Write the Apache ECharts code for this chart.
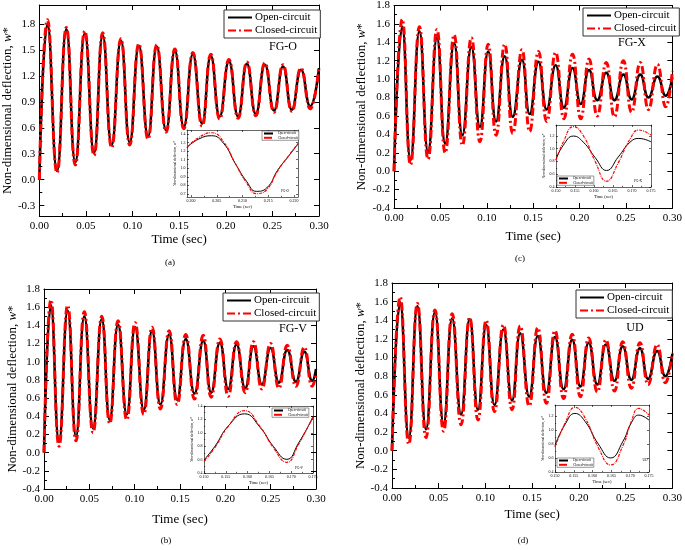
<!DOCTYPE html>
<html><head><meta charset="utf-8">
<script src="https://cdn.jsdelivr.net/npm/echarts@6/dist/echarts.min.js"></script>
<style>html,body{margin:0;padding:0;background:#fff}#c{width:685px;height:550px}</style>
</head><body><div id="c"></div>
<script>
// ---------- DATA ----------
const seriesNames = ['Open-circuit', 'Closed-circuit'];
const panelTags = ['FG-O', 'FG-X', 'FG-V', 'UD'];
const captions = ['(a)', '(c)', '(b)', '(d)'];

const xTicksMain = [0, 0.05, 0.10, 0.15, 0.20, 0.25, 0.30];
const yTicksA = [-0.3, 0.0, 0.3, 0.6, 0.9, 1.2, 1.5, 1.8];
const yTicksBCD = [-0.4, -0.2, 0.0, 0.2, 0.4, 0.6, 0.8, 1.0, 1.2, 1.4, 1.6, 1.8];
const xTicksInsetA = [0.200, 0.205, 0.210, 0.215, 0.220];
const yTicksInsetA = [0.7, 0.8, 0.9, 1.0, 1.1, 1.2, 1.3, 1.4];
const xTicksInset = [0.150, 0.155, 0.160, 0.165, 0.170, 0.175];
const yTicksInsetB = [0.4, 0.6, 0.8, 1.0, 1.2, 1.4];
const yTicksInsetCD = [0.4, 0.6, 0.8, 1.0, 1.2];

// (a) FG-O
const tA = [0, 0.0088, 0.0190, 0.0290, 0.0386, 0.0488, 0.0587, 0.0680, 0.0776, 0.0875, 0.0970, 0.1068, 0.1166, 0.1260, 0.1360, 0.1454, 0.1550, 0.1647, 0.1746, 0.1840, 0.1935, 0.2034, 0.2132, 0.2227, 0.2322, 0.2420, 0.2518, 0.2614, 0.2709, 0.2807, 0.2905, 0.3000];
const openA = [0, 1.80, 0.10, 1.74, 0.20, 1.69, 0.31, 1.67, 0.40, 1.61, 0.43, 1.55, 0.50, 1.54, 0.57, 1.49, 0.61, 1.45, 0.65, 1.43, 0.73, 1.37, 0.73, 1.34, 0.76, 1.33, 0.80, 1.31, 0.81, 1.27, 0.85, 1.29];
const closedA = [0, 1.85, 0.08, 1.76, 0.17, 1.72, 0.28, 1.70, 0.37, 1.63, 0.40, 1.57, 0.47, 1.56, 0.55, 1.51, 0.59, 1.47, 0.62, 1.45, 0.70, 1.39, 0.71, 1.36, 0.74, 1.35, 0.78, 1.33, 0.79, 1.29, 0.82, 1.30];

// (c) FG-X
const tC = [0, 0.0089, 0.0178, 0.0274, 0.0367, 0.0463, 0.0552, 0.0648, 0.0737, 0.0834, 0.0926, 0.1015, 0.1100, 0.1193, 0.1280, 0.1379, 0.1462, 0.1557, 0.1646, 0.1742, 0.1831, 0.1924, 0.2013, 0.2102, 0.2191, 0.2287, 0.2376, 0.2472, 0.2561, 0.2654, 0.2743, 0.2839, 0.2928, 0.3000];
const openC = [0, 1.57, 0.12, 1.52, 0.21, 1.45, 0.30, 1.39, 0.39, 1.35, 0.48, 1.30, 0.54, 1.25, 0.59, 1.21, 0.62, 1.19, 0.67, 1.15, 0.69, 1.12, 0.73, 1.10, 0.77, 1.07, 0.77, 1.05, 0.78, 1.05, 0.80, 1.03, 0.82, 1.02];
const closedC = [0, 1.65, 0.07, 1.57, 0.13, 1.54, 0.20, 1.48, 0.28, 1.45, 0.32, 1.38, 0.39, 1.38, 0.41, 1.32, 0.43, 1.30, 0.54, 1.29, 0.57, 1.27, 0.57, 1.22, 0.60, 1.18, 0.59, 1.20, 0.64, 1.18, 0.67, 1.16, 0.70, 1.09];

// (b) FG-V
const tB = [0, 0.0077, 0.0166, 0.0261, 0.0353, 0.0445, 0.0541, 0.0637, 0.0725, 0.0817, 0.0913, 0.1005, 0.1100, 0.1192, 0.1284, 0.1380, 0.1469, 0.1564, 0.1660, 0.1756, 0.1844, 0.1940, 0.2032, 0.2124, 0.2219, 0.2311, 0.2403, 0.2499, 0.2591, 0.2683, 0.2779, 0.2871, 0.2959, 0.3000];
const openB = [0, 1.62, 0.12, 1.56, 0.18, 1.50, 0.27, 1.47, 0.36, 1.41, 0.42, 1.38, 0.47, 1.34, 0.53, 1.30, 0.58, 1.25, 0.65, 1.23, 0.66, 1.21, 0.70, 1.19, 0.71, 1.17, 0.75, 1.15, 0.77, 1.13, 0.78, 1.11, 0.79, 0.92];
const closedB = [0, 1.68, 0.07, 1.62, 0.13, 1.55, 0.22, 1.50, 0.32, 1.45, 0.36, 1.43, 0.42, 1.38, 0.48, 1.34, 0.53, 1.30, 0.59, 1.29, 0.61, 1.25, 0.62, 1.22, 0.66, 1.22, 0.70, 1.20, 0.71, 1.18, 0.73, 1.16, 0.73, 0.86];

// (d) UD
const tD = [0, 0.0088, 0.0180, 0.0272, 0.0364, 0.0460, 0.0552, 0.0644, 0.0739, 0.0831, 0.0920, 0.1008, 0.1097, 0.1192, 0.1284, 0.1372, 0.1468, 0.1560, 0.1652, 0.1744, 0.1836, 0.1928, 0.2016, 0.2105, 0.2197, 0.2289, 0.2381, 0.2469, 0.2561, 0.2653, 0.2741, 0.2837, 0.2925, 0.3000];
const openD = [0, 1.59, 0.14, 1.55, 0.23, 1.49, 0.29, 1.42, 0.39, 1.41, 0.44, 1.35, 0.49, 1.30, 0.54, 1.26, 0.58, 1.23, 0.62, 1.22, 0.66, 1.19, 0.69, 1.16, 0.71, 1.14, 0.75, 1.12, 0.76, 1.10, 0.77, 1.07, 0.80, 1.04];
const closedD = [0, 1.65, 0.07, 1.58, 0.14, 1.51, 0.21, 1.47, 0.28, 1.43, 0.33, 1.40, 0.42, 1.35, 0.44, 1.34, 0.48, 1.32, 0.51, 1.29, 0.56, 1.25, 0.58, 1.21, 0.63, 1.19, 0.64, 1.17, 0.67, 1.16, 0.71, 1.14, 0.73, 1.05];

// insets
const tIa = [0.1992, 0.2015, 0.2040, 0.2063, 0.2086, 0.2108, 0.2127, 0.2147, 0.2169, 0.2189, 0.2208];
const openIa = [1.245, 1.342, 1.38, 1.292, 1.056, 0.847, 0.731, 0.77, 0.983, 1.137, 1.284];
const closedIa = [1.245, 1.36, 1.415, 1.31, 1.056, 0.83, 0.705, 0.75, 0.975, 1.14, 1.29];

const tIc = [0.150, 0.1519, 0.1546, 0.1572, 0.1603, 0.1633, 0.1664, 0.1695, 0.1718, 0.1750];
const openIc = [0.826, 1.05, 1.195, 1.10, 0.86, 0.658, 0.87, 1.10, 1.158, 1.105];
const closedIc = [0.816, 1.10, 1.342, 1.20, 0.80, 0.49, 0.78, 1.15, 1.29, 1.21];

const tIb = [0.150, 0.1525, 0.1556, 0.1593, 0.1629, 0.1659, 0.1690, 0.1717, 0.1750];
const openIb = [0.594, 0.798, 1.104, 1.283, 1.078, 0.798, 0.604, 0.849, 1.232];
const closedIb = [0.57, 0.78, 1.10, 1.33, 1.09, 0.78, 0.56, 0.83, 1.24];

const tId = [0.150, 0.1527, 0.1553, 0.1580, 0.1615, 0.1648, 0.1681, 0.1703, 0.1723, 0.1750];
const openId = [0.778, 1.08, 1.234, 1.12, 0.80, 0.60, 0.84, 1.10, 1.21, 1.138];
const closedId = [0.754, 1.10, 1.32, 1.17, 0.75, 0.50, 0.78, 1.12, 1.306, 1.21];

// ---------- BUILD ----------
const F = "'Liberation Serif','DejaVu Serif',serif";
const grids = [], xAxes = [], yAxes = [], series = [], legends = [], graphics = [];
const pair = (t, v) => t.map((x, i) => [x, v[i]]);
const minors = ticks => { const m = []; for (let i = 0; i < ticks.length - 1; i++) m.push((ticks[i] + ticks[i + 1]) / 2); return m; };

function addPanel(c) {
  const gi = grids.length;
  const big = !c.inset;
  grids.push({ left: c.box[0], top: c.box[1], width: c.box[2], height: c.box[3], show: !big, backgroundColor: '#fff', borderWidth: 0 });
  const ls = { color: '#000', width: big ? 1 : 0.6 };
  const tl = big ? 5 : 2, mtl = big ? 3 : 1.2;
  const yNameRich = { i: { fontStyle: 'italic', fontFamily: F, fontSize: c.ynfs, color: '#000' } };
  const xi = xAxes.length, yi = yAxes.length;
  xAxes.push({ gridIndex: gi, type: 'value', position: 'bottom', min: c.xr[0], max: c.xr[1],
    axisLine: { show: true, onZero: false, lineStyle: ls },
    axisTick: { show: true, inside: true, length: tl, customValues: c.xt, lineStyle: ls },
    axisLabel: { show: true, customValues: c.xt, formatter: v => v.toFixed(c.xd), fontFamily: F, fontSize: c.fs, color: '#000', margin: big ? 5 : 1.5 },
    splitLine: { show: false }, name: 'Time (sec)', nameLocation: 'middle', nameGap: c.xgap,
    nameTextStyle: { fontFamily: F, fontSize: c.xnfs, color: '#000' } });
  xAxes.push({ gridIndex: gi, type: 'value', position: 'top', min: c.xr[0], max: c.xr[1],
    axisLine: { show: true, onZero: false, lineStyle: ls },
    axisTick: { show: true, inside: true, length: tl, customValues: c.xt, lineStyle: ls },
    axisLabel: { show: false }, splitLine: { show: false } });
  xAxes.push({ gridIndex: gi, type: 'value', position: 'bottom', min: c.xr[0], max: c.xr[1],
    axisLine: { show: false, onZero: false },
    axisTick: { show: true, inside: true, length: mtl, customValues: minors(c.xt), lineStyle: ls },
    axisLabel: { show: false }, splitLine: { show: false } });
  yAxes.push({ gridIndex: gi, type: 'value', position: 'left', min: c.yr[0], max: c.yr[1],
    axisLine: { show: true, onZero: false, lineStyle: ls },
    axisTick: { show: true, inside: true, length: tl, customValues: c.yt, lineStyle: ls },
    axisLabel: { show: true, customValues: c.yt, formatter: v => v.toFixed(c.yd), fontFamily: F, fontSize: c.fs, color: '#000', margin: big ? 4 : 1.5 },
    splitLine: { show: false }, name: 'Non-dimensional deflection, {i|w}*', nameLocation: 'middle', nameGap: c.ygap,
    nameTextStyle: { fontFamily: F, fontSize: c.ynfs, color: '#000', rich: yNameRich } });
  yAxes.push({ gridIndex: gi, type: 'value', position: 'right', min: c.yr[0], max: c.yr[1],
    axisLine: { show: true, onZero: false, lineStyle: ls },
    axisTick: { show: true, inside: true, length: tl, customValues: c.yt, lineStyle: ls },
    axisLabel: { show: false }, splitLine: { show: false } });
  yAxes.push({ gridIndex: gi, type: 'value', position: 'left', min: c.yr[0], max: c.yr[1],
    axisLine: { show: false, onZero: false },
    axisTick: { show: true, inside: true, length: mtl, customValues: minors(c.yt), lineStyle: ls },
    axisLabel: { show: false }, splitLine: { show: false } });
  series.push({ type: 'line', name: seriesNames[0], xAxisIndex: xi, yAxisIndex: yi, data: pair(c.t, c.open),
    smooth: 0.5, symbol: 'none', showSymbol: false, z: big ? 3 : 13,
    lineStyle: { color: '#000', width: big ? 2.5 : 1 }, itemStyle: { color: '#000' } });
  series.push({ type: 'line', name: seriesNames[1], xAxisIndex: xi, yAxisIndex: yi, data: pair(c.t, c.closed),
    smooth: 0.5, symbol: 'none', showSymbol: false, z: big ? 4 : 14,
    lineStyle: { color: '#ff0000', width: big ? 3 : 1.2, type: big ? [8, 3, 2, 3] : [3, 1, 0.8, 1] }, itemStyle: { color: '#ff0000' } });
  legends.push({ left: c.leg[0], top: c.leg[1], orient: 'vertical', data: seriesNames, selectedMode: false,
    borderColor: '#333', borderWidth: big ? 1 : 0.5, backgroundColor: '#fff',
    padding: big ? [2, 3, 2, 3] : [0.5, 1, 0.5, 1], itemGap: big ? 2 : 0.3,
    itemWidth: big ? 24 : 9, itemHeight: big ? 9 : 3, z: big ? 5 : 15,
    itemStyle: { opacity: 0 },
    textStyle: { fontFamily: F, fontSize: big ? 11 : 3.5, color: '#000', padding: big ? [0, 0, 0, -2] : 0 } });
  graphics.push({ type: 'text', x: c.tag[0], y: c.tag[1], z: 20,
    style: { text: c.tagText, font: (big ? 12 : 3.5) + 'px ' + F, fill: '#000', align: 'center', verticalAlign: 'middle' } });
}

// main panels
addPanel({ box: [34, 5, 285, 211], xr: [0, 0.3], xt: xTicksMain, xd: 2, yr: [-0.42, 2.02], yt: yTicksA, yd: 1,
  fs: 11, xnfs: 13, ynfs: 13, xgap: 17, ygap: 18, t: tA, open: openA, closed: closedA, leg: [224, 10], tag: [283, 47], tagText: panelTags[0] });
addPanel({ box: [394, 4, 281, 204], xr: [0, 0.3], xt: xTicksMain, xd: 2, yr: [-0.4, 1.8], yt: yTicksBCD, yd: 1,
  fs: 11, xnfs: 13, ynfs: 13, xgap: 22, ygap: 26, t: tC, open: openC, closed: closedC, leg: [583, 8], tag: [632, 43], tagText: panelTags[1] });
addPanel({ box: [44, 289, 272, 200], xr: [0, 0.3], xt: xTicksMain, xd: 2, yr: [-0.4, 1.8], yt: yTicksBCD, yd: 1,
  fs: 11, xnfs: 13, ynfs: 13, xgap: 24, ygap: 25, t: tB, open: openB, closed: closedB, leg: [223, 293], tag: [293, 329], tagText: panelTags[2] });
addPanel({ box: [392, 283, 282, 205], xr: [0, 0.3], xt: xTicksMain, xd: 2, yr: [-0.4, 1.8], yt: yTicksBCD, yd: 1,
  fs: 11, xnfs: 13, ynfs: 13, xgap: 20, ygap: 23, t: tD, open: openD, closed: closedD, leg: [576, 290], tag: [635, 328], tagText: panelTags[3] });
// insets
addPanel({ inset: true, box: [187, 130, 111, 67], xr: [0.1992, 0.2208], xt: xTicksInsetA, xd: 3, yr: [0.665, 1.447], yt: yTicksInsetA, yd: 1,
  fs: 4, xnfs: 4.5, ynfs: 3.5, xgap: 7, ygap: 9, t: tIa, open: openIa, closed: closedIa, leg: [262, 131], tag: [285, 191], tagText: panelTags[0] });
addPanel({ inset: true, box: [556, 125, 95, 62], xr: [0.150, 0.175], xt: xTicksInset, xd: 3, yr: [0.4, 1.368], yt: yTicksInsetCD, yd: 1,
  fs: 4, xnfs: 4.5, ynfs: 3.5, xgap: 7, ygap: 9, t: tIc, open: openIc, closed: closedIc, leg: [557, 176], tag: [638, 181], tagText: panelTags[1] });
addPanel({ inset: true, box: [204, 406, 109, 67], xr: [0.150, 0.175], xt: xTicksInset, xd: 3, yr: [0.4, 1.4], yt: yTicksInsetB, yd: 1,
  fs: 4, xnfs: 4.5, ynfs: 3.5, xgap: 7, ygap: 9, t: tIb, open: openIb, closed: closedIb, leg: [272, 408], tag: [299, 468], tagText: panelTags[2] });
addPanel({ inset: true, box: [555, 405, 94, 67], xr: [0.150, 0.175], xt: xTicksInset, xd: 3, yr: [0.4, 1.354], yt: yTicksInsetCD, yd: 1,
  fs: 4, xnfs: 4.5, ynfs: 3.5, xgap: 7, ygap: 9, t: tId, open: openId, closed: closedId, leg: [557, 458], tag: [645, 460], tagText: panelTags[3] });

const capPos = [[170, 263], [520, 259], [166, 541], [523, 541]];
captions.forEach((txt, i) => graphics.push({ type: 'text', x: capPos[i][0], y: capPos[i][1], z: 20,
  style: { text: txt, font: '9px ' + F, fill: '#000', align: 'center', verticalAlign: 'middle' } }));

const chart = echarts.init(document.getElementById('c'), null, { renderer: 'canvas' });
chart.setOption({ animation: false, backgroundColor: '#fff', grid: grids, xAxis: xAxes, yAxis: yAxes, series, legend: legends, graphic: graphics });
</script></body></html>
